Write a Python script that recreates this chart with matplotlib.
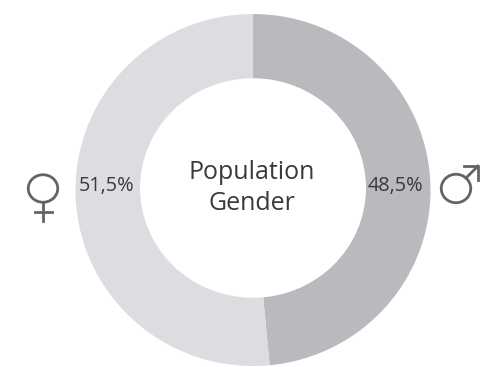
import matplotlib
matplotlib.use('Agg')
import matplotlib.pyplot as plt
from matplotlib.patches import Ellipse

# shares of the ring, clockwise from the top
labels = ['48,5%', '51,5%']
values = [48.5, 51.5]
colors = ['#b9babe', '#dcdde0']
center_text = 'Population\nGender'

plt.rcParams['font.family'] = ['Open Sans', 'DejaVu Sans']

W, H = 483, 367
fig = plt.figure(figsize=(W/100, H/100), dpi=100)
ax = fig.add_axes([0, 0, 1, 1])
ax.set_xlim(0, W)
ax.set_ylim(H, 0)
ax.axis('off')
ax.set_zorder(3)

# ring, the hole is a bit higher than the middle of the outer edge
pie_ax = fig.add_axes([(253-177.5)/W, 1-(190+176)/H, 355/W, 352/H])
pie_ax.pie(values, colors=colors, startangle=90, counterclock=False, radius=1,
           wedgeprops=dict(width=0.5, linewidth=0))
pie_ax.set_aspect('auto')
pie_ax.set_xlim(-1, 1)
pie_ax.set_ylim(-1, 1)
ax.add_patch(Ellipse((253, 188), 226, 219.5, fc='white', ec='none'))

ax.text(252, 188, center_text, ha='center', va='center', fontsize=18, color='#3a3a3c', linespacing=1.34)
ax.text(395.5, 186.5, labels[0], ha='center', va='center', fontsize=14.3, color='#3a3a3c')
ax.text(106.5, 186.5, labels[1], ha='center', va='center', fontsize=14.3, color='#3a3a3c')

# gender symbols
icon = '#636466'
ax.add_patch(Ellipse((43, 188.5), 29.5, 27.5, fill=False, ec=icon, lw=2))
ax.plot([43, 43], [203, 221], color=icon, lw=2)
ax.plot([35, 52], [212, 212], color=icon, lw=2)
ax.add_patch(Ellipse((456, 188.5), 29.5, 28.5, fill=False, ec=icon, lw=2))
ax.plot([466, 478], [178, 166], color=icon, lw=2)
ax.plot([464, 478, 478], [166, 166, 180], color=icon, lw=2)

fig.savefig('out.png', dpi=100)
